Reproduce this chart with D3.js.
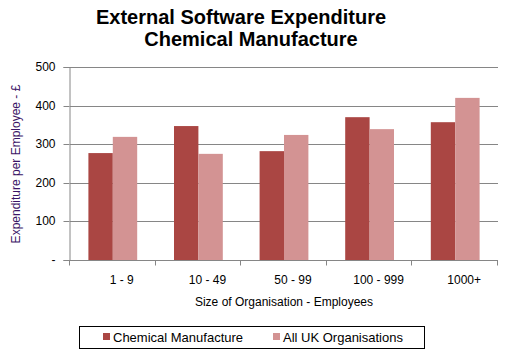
<!DOCTYPE html>
<html>
<head>
<meta charset="utf-8">
<script src="https://cdn.jsdelivr.net/npm/d3@7"></script>
<style>
  body { margin: 0; background: #fff; }
  text { font-family: Arial, "Liberation Sans", sans-serif; }
</style>
</head>
<body>
<svg class="svg"></svg>
<script>
const categories = ['1 - 9', '10 - 49', '50 - 99', '100 - 999', '1000+'];
const chemical = [277, 347, 282, 370, 357];
const allUk = [319, 275, 324, 339, 420];
const seriesNames = ['Chemical Manufacture', 'All UK Organisations'];
const yTicks = [0, 100, 200, 300, 400, 500];

const width = 509;
const height = 353;
const colors = ['#AA4643', '#D39393'];

const margin = { top: 67, right: 11, bottom: 93, left: 70 };

const svg = d3.select('.svg')
  .attr('width', width)
  .attr('height', height);

const rows = categories.map((c, i) => ({ cat: c, values: [chemical[i], allUk[i]] }));

const x = d3.scaleBand()
  .domain(categories)
  .range([margin.left, width - margin.right])
  .paddingInner(0.43)
  .paddingOuter(0.215);

const xSub = d3.scaleBand()
  .domain([0, 1])
  .range([0, x.bandwidth()]);

const y = d3.scaleLinear()
  .domain([0, 500])
  .range([height - margin.bottom, margin.top]);

// gridlines
svg.append('g')
  .selectAll('line')
  .data(yTicks.filter(d => d > 0))
  .join('line')
  .attr('x1', margin.left)
  .attr('x2', width - margin.right)
  .attr('y1', d => Math.round(y(d)) + 0.5)
  .attr('y2', d => Math.round(y(d)) + 0.5)
  .attr('stroke', '#868686')
  .attr('stroke-width', 1);

// bars
const group = svg.append('g')
  .selectAll('g')
  .data(rows)
  .join('g')
  .attr('transform', d => `translate(${x(d.cat)},0)`);

group.selectAll('rect')
  .data(d => d.values.map((v, i) => ({ v, i })))
  .join('rect')
  .attr('x', d => xSub(d.i))
  .attr('width', xSub.bandwidth())
  .attr('y', d => y(d.v))
  .attr('height', d => y(0) - y(d.v))
  .attr('fill', d => colors[d.i]);

// y axis
const yAxis = svg.append('g')
  .attr('transform', `translate(${margin.left - 0.5},0)`)
  .call(d3.axisLeft(y)
    .tickValues(yTicks)
    .tickSize(6)
    .tickPadding(8)
    .tickFormat(d => d === 0 ? '-' : d));
yAxis.selectAll('line, path').attr('stroke', '#868686');
yAxis.selectAll('text').attr('font-size', 12).attr('fill', '#000');
yAxis.selectAll('.tick').attr('transform', d => `translate(0,${Math.round(y(d)) + 0.5})`);

// x axis
const xAxisG = svg.append('g')
  .attr('transform', `translate(0,${Math.round(y(0)) + 0.5})`);
xAxisG.append('line')
  .attr('x1', margin.left - 6)
  .attr('x2', width - margin.right)
  .attr('stroke', '#868686');
const bounds = d3.range(categories.length + 1).map(i => margin.left + i * (width - margin.left - margin.right) / categories.length);
xAxisG.selectAll('.xt')
  .data(bounds)
  .join('line')
  .attr('class', 'xt')
  .attr('x1', d => Math.round(d) - 0.5)
  .attr('x2', d => Math.round(d) - 0.5)
  .attr('y1', 0)
  .attr('y2', 5)
  .attr('stroke', '#868686');
xAxisG.selectAll('.xl')
  .data(categories)
  .join('text')
  .attr('class', 'xl')
  .attr('x', d => x(d) + x.bandwidth() / 2 + 9)
  .attr('y', 23)
  .attr('text-anchor', 'middle')
  .attr('font-size', 12)
  .attr('fill', '#000')
  .text(d => d);

// axis titles
svg.append('text')
  .attr('x', 284)
  .attr('y', 306)
  .attr('text-anchor', 'middle')
  .attr('font-size', 12)
  .attr('fill', '#000')
  .text('Size of Organisation - Employees');

svg.append('text')
  .attr('transform', `translate(20,164) rotate(-90)`)
  .attr('text-anchor', 'middle')
  .attr('font-size', 12)
  .attr('fill', '#3B1466')
  .text('Expenditure per Employee - £');

// title
svg.append('text')
  .attr('x', 241)
  .attr('y', 24)
  .attr('text-anchor', 'middle')
  .attr('font-size', 20)
  .attr('font-weight', 'bold')
  .text('External Software Expenditure');
svg.append('text')
  .attr('x', 251)
  .attr('y', 46)
  .attr('text-anchor', 'middle')
  .attr('font-size', 20)
  .attr('font-weight', 'bold')
  .text('Chemical Manufacture');

// legend
const legend = svg.append('g');
legend.append('rect')
  .attr('x', 79.5)
  .attr('y', 326.5)
  .attr('width', 345)
  .attr('height', 22)
  .attr('fill', '#fff')
  .attr('stroke', '#000');
const legendX = [103, 273];
const item = legend.selectAll('.li')
  .data(seriesNames)
  .join('g')
  .attr('class', 'li')
  .attr('transform', (d, i) => `translate(${legendX[i]},333)`);
item.append('rect')
  .attr('width', 7)
  .attr('height', 7)
  .attr('fill', (d, i) => colors[i]);
item.append('text')
  .attr('x', 10)
  .attr('y', 9)
  .attr('font-size', 13)
  .attr('fill', '#000')
  .text(d => d);
</script>
</body>
</html>
